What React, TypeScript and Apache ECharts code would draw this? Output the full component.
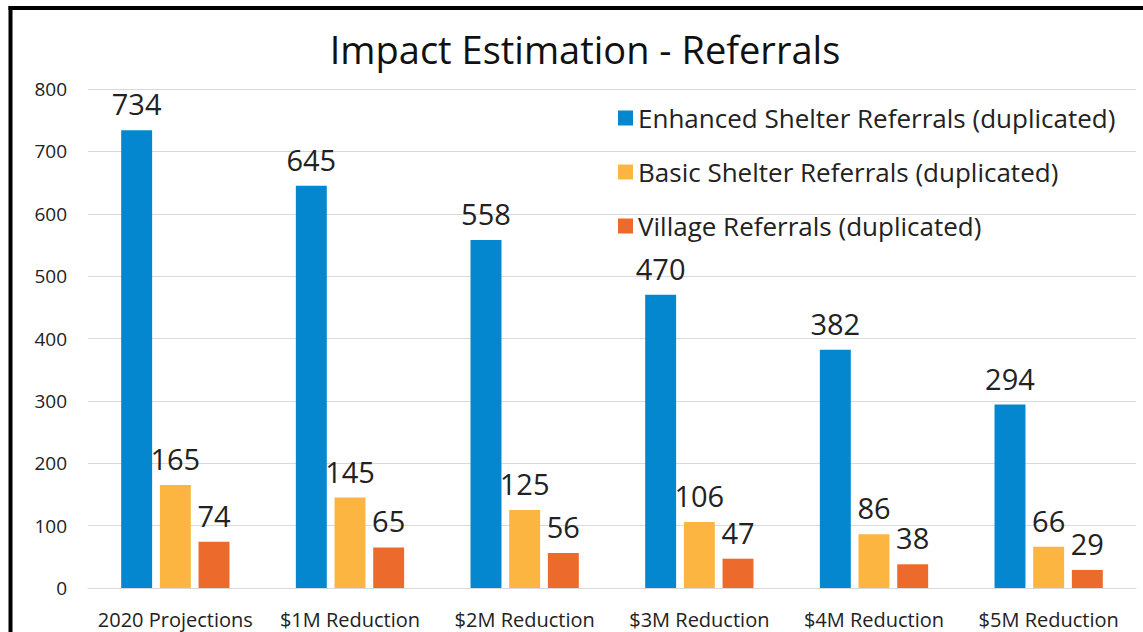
import React, { useEffect, useRef } from "react";
import * as echarts from "echarts";

const categories = ["2020 Projections", "$1M Reduction", "$2M Reduction", "$3M Reduction", "$4M Reduction", "$5M Reduction"];
const enhanced = [734, 645, 558, 470, 382, 294];
const basic = [165, 145, 125, 106, 86, 66];
const village = [74, 65, 56, 47, 38, 29];
const seriesNames = [
  "Enhanced Shelter Referrals (duplicated)",
  "Basic Shelter Referrals (duplicated)",
  "Village Referrals (duplicated)",
];
const colors = ["#0587CF", "#FBB540", "#EC6A2C"];

const FONT = "'Open Sans', sans-serif";

export default function App() {
  const ref = useRef<HTMLDivElement>(null);
  useEffect(() => {
    if (!ref.current) return;
    const chart = echarts.init(ref.current, undefined, { renderer: "svg" });
    const dataSets = [enhanced, basic, village];
    chart.setOption({
      animation: false,
      backgroundColor: "#ffffff",
      textStyle: { fontFamily: FONT },
      title: {
        text: "Impact Estimation - Referrals",
        left: 580,
        textAlign: "center",
        top: 25,
        textStyle: { fontFamily: FONT, fontSize: 38, fontWeight: "normal", color: "#111111" },
      },
      legend: {
        orient: "vertical",
        left: 613,
        top: 100,
        itemWidth: 15,
        itemHeight: 15,
        itemGap: 28,
        itemStyle: { borderWidth: 0 },
        icon: "rect",
        textStyle: { fontFamily: FONT, fontSize: 26, color: "#222222" },
        data: seriesNames,
      },
      grid: { left: 88, right: 7, top: 89, bottom: 44, containLabel: false },
      xAxis: {
        type: "category",
        data: categories,
        axisTick: { show: false },
        axisLine: { lineStyle: { color: "#d9d9d9", width: 1 } },
        axisLabel: { fontFamily: FONT, fontSize: 20, color: "#222222", margin: 21, interval: 0 },
      },
      yAxis: {
        type: "value",
        min: 0,
        max: 800,
        interval: 100,
        axisLine: { show: false },
        axisTick: { show: false },
        splitLine: { lineStyle: { color: "#d9d9d9", width: 1 } },
        axisLabel: { fontFamily: FONT, fontSize: 19, color: "#222222", margin: 21 },
      },
      series: dataSets.map((d, i) => ({
        name: seriesNames[i],
        type: "bar",
        data: d,
        barGap: "25%",
        barCategoryGap: "38%",
        itemStyle: { color: colors[i] },
        label: {
          show: true,
          position: "top",
          distance: 12,
          fontFamily: FONT,
          fontSize: 29,
          color: "#222222",
        },
      })),
      graphic: [
        { type: "line", shape: { x1: 10.5, y1: 6, x2: 10.5, y2: 640 }, style: { stroke: "#000", lineWidth: 4 } },
        { type: "line", shape: { x1: 8.5, y1: 8, x2: 1150, y2: 8 }, style: { stroke: "#000", lineWidth: 4 } },
      ],
    });
    return () => chart.dispose();
  }, []);
  return (
    <div
      ref={ref}
      style={{ position: "fixed", left: 0, top: 0, width: 1143, height: 632 }}
    />
  );
}
